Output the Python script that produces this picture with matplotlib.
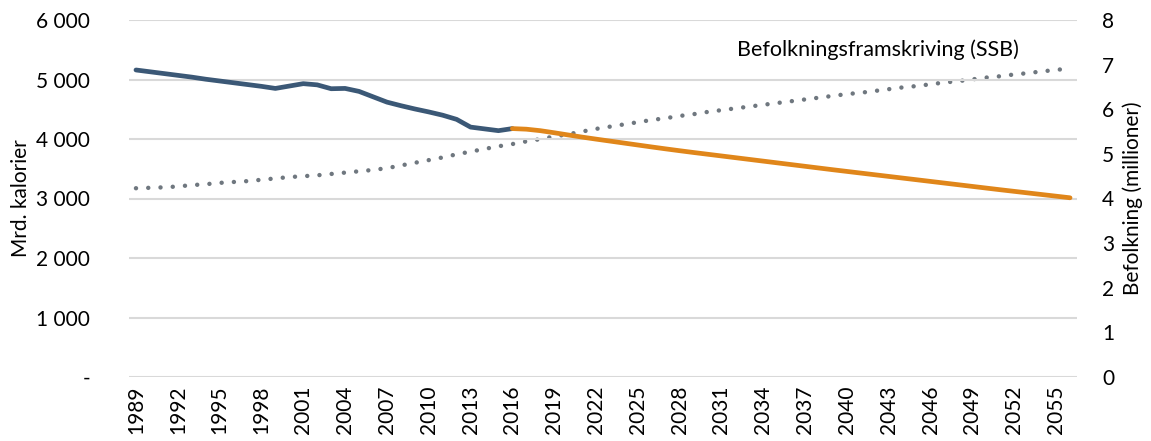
import numpy as np
import matplotlib.pyplot as plt

plt.rcParams['font.family'] = ['Lato', 'DejaVu Sans']

# historisk forbruk (mrd. kalorier) 1989-2016
hist_years = list(range(1989, 2017))
hist_kal = [5160, 5130, 5100, 5070, 5040, 5005, 4975, 4945, 4915, 4885,
            4850, 4890, 4930, 4910, 4845, 4850, 4800, 4710, 4620, 4560,
            4505, 4455, 4400, 4330, 4200, 4170, 4140, 4175]

# framskriving 2016-2056
proj_years = list(range(2016, 2057))
proj_kal = [4175, 4165, 4140, 4105, 4068, 4032, 3998, 3965, 3932, 3899,
            3866, 3834, 3803, 3773, 3744, 3715, 3686, 3657, 3628, 3599,
            3570, 3541, 3512, 3483, 3455, 3427, 3399, 3371, 3343, 3315,
            3287, 3259, 3231, 3203, 3175, 3147, 3120, 3093, 3066, 3039, 3012]

# befolkning (millioner) 1989-2056
pop_years = list(range(1989, 2057))
pop = [4.23, 4.24, 4.25, 4.27, 4.30, 4.32, 4.35, 4.37, 4.39, 4.42,
       4.45, 4.48, 4.50, 4.52, 4.55, 4.58, 4.61, 4.64, 4.68, 4.74,
       4.80, 4.86, 4.92, 4.99, 5.05, 5.11, 5.17, 5.22, 5.28, 5.33,
       5.39, 5.44, 5.50, 5.56, 5.61, 5.66, 5.71, 5.76, 5.80, 5.85,
       5.89, 5.94, 5.98, 6.02, 6.06, 6.10, 6.14, 6.18, 6.22, 6.26,
       6.30, 6.34, 6.37, 6.41, 6.45, 6.49, 6.52, 6.56, 6.60, 6.63,
       6.67, 6.71, 6.74, 6.78, 6.81, 6.85, 6.88, 6.92]

left_ticks = [0, 1000, 2000, 3000, 4000, 5000, 6000]
left_labels = ['-', '1 000', '2 000', '3 000', '4 000', '5 000', '6 000']
year_ticks = list(range(1989, 2056, 3))

fig = plt.figure(figsize=(11.51, 4.41), dpi=100)
ax = fig.add_axes([129/1151, 1-377/441, (1077-129)/1151, (377-20)/441])
ax2 = ax.twinx()

ax.set_zorder(ax2.get_zorder() + 1)
ax.patch.set_visible(False)

ax2.plot(pop_years, pop, color='#6f777f', lw=3.2, linestyle=(0, (0.01, 2.75)),
         dash_capstyle='round')
ax.plot(hist_years, hist_kal, color='#3b5876', lw=3.4, solid_capstyle='round')
ax.plot(proj_years, proj_kal, color='#e0861a', lw=3.4, solid_capstyle='round')

ax.set_xlim(1988.5, 2056.5)
ax.set_ylim(0, 6000)
ax2.set_ylim(0, 8)

ax.set_yticks(left_ticks)
ax.set_yticklabels(left_labels)
ax.set_xticks(year_ticks)
ax.set_xticklabels([str(y) for y in year_ticks], rotation=90)
ax2.set_yticks(range(0, 9))

ax.grid(axis='y', color='#d9d9d9', lw=1.5)
ax.set_axisbelow(True)
for a in (ax, ax2):
    for s in a.spines.values():
        s.set_visible(False)
    a.tick_params(length=0, labelsize=15, colors='black')
ax.tick_params(axis='y', pad=28)
ax.tick_params(axis='x', pad=6)
ax2.tick_params(axis='y', pad=18)

ax.set_ylabel('Mrd. kalorier', fontsize=15, labelpad=4)
ax2.set_ylabel('Befolkning (millioner)', fontsize=15, labelpad=6)

ax.text(2032.1, 5500, 'Befolkningsframskriving (SSB)', fontsize=15.5,
        ha='left', va='center')

fig.savefig('out.png', dpi=100)
